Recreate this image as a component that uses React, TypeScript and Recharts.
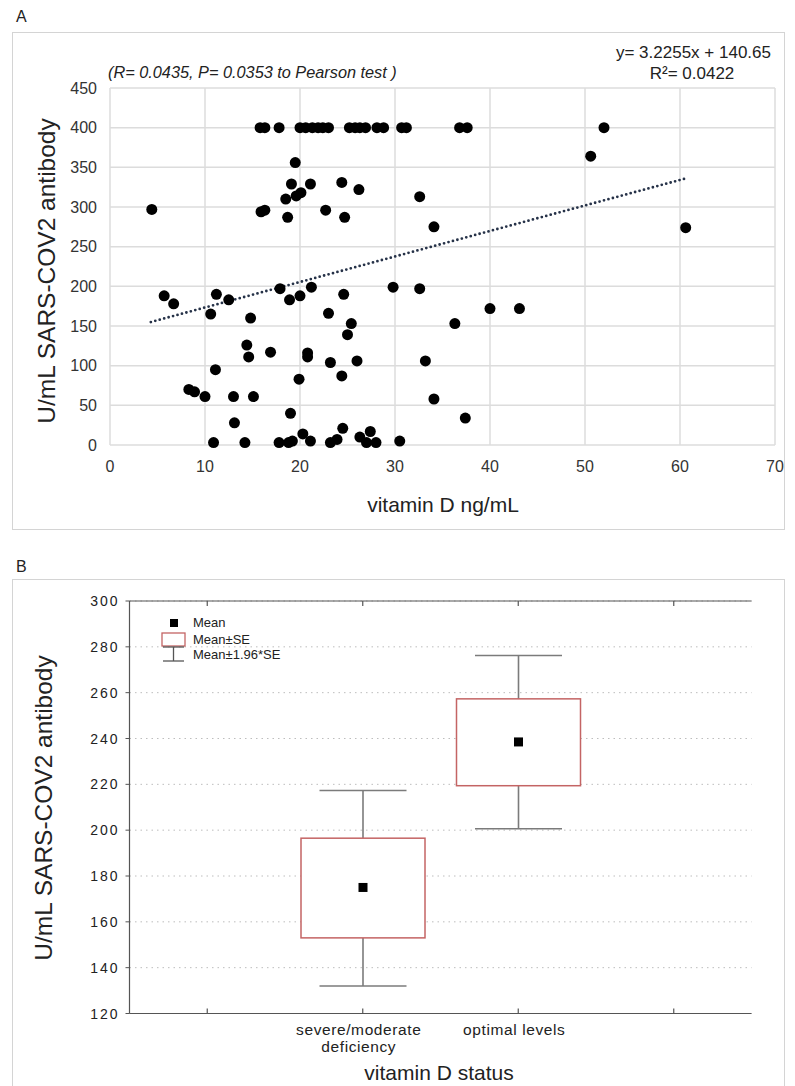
import React from 'react';
import {
  ScatterChart,
  Scatter,
  ComposedChart,
  Bar,
  XAxis,
  YAxis,
  CartesianGrid,
  ReferenceLine,
} from 'recharts';

const FONT = '"Liberation Sans", Arial, sans-serif';

// Panel A — vitamin D (ng/mL) vs. antibody titre (U/mL)
const vitaminD = [
  15.8, 16.3, 17.8, 20.0, 20.6, 21.3, 21.9, 22.4, 23.0, 25.2, 25.8, 26.3, 26.9, 28.1, 28.8, 30.7, 31.2, 36.8, 37.6, 52.0,
  4.4, 15.9, 16.3, 18.5, 18.7, 19.1, 19.5, 19.6, 20.1, 21.1, 22.7, 24.4, 24.7, 26.2, 32.6, 34.1, 50.6, 60.6,
  5.7, 6.7, 10.6, 11.2, 12.5, 14.8, 17.9, 18.9, 20.0, 21.2, 23.0, 24.6, 25.0, 25.4, 29.8, 32.6, 36.3, 40.0, 43.1,
  8.3, 8.9, 10.0, 11.1, 13.0, 13.1, 14.4, 14.6, 15.1, 16.9, 19.0, 19.9, 20.3, 20.8, 20.8, 23.2, 24.4, 24.5, 26.0, 27.4, 33.2, 34.1, 37.4,
  10.9, 14.2, 17.8, 18.8, 19.2, 21.1, 23.2, 23.9, 26.3, 27.0, 28.0, 30.5,
];
const antibody = [
  400, 400, 400, 400, 400, 400, 400, 400, 400, 400, 400, 400, 400, 400, 400, 400, 400, 400, 400, 400,
  297, 294, 296, 310, 287, 329, 356, 314, 318, 329, 296, 331, 287, 322, 313, 275, 364, 274,
  188, 178, 165, 190, 183, 160, 197, 183, 188, 199, 166, 190, 139, 153, 199, 197, 153, 172, 172,
  70, 67, 61, 95, 61, 28, 126, 111, 61, 117, 40, 83, 14, 116, 111, 104, 87, 21, 106, 17, 106, 58, 34,
  3, 3, 3, 3, 5, 5, 3, 7, 10, 3, 3, 5,
];
// ends of the dotted regression line
const trendX = [4.3, 60.6];
const trendY = [155, 336];
const xTicksA = [0, 10, 20, 30, 40, 50, 60, 70];
const yTicksA = [0, 50, 100, 150, 200, 250, 300, 350, 400, 450];

// Panel B — mean, SE and 1.96*SE per vitamin D status group
const statusKeys = ['pad1', 'severe', 'optimal', 'pad2'];
const statusLabels = ['', 'severe/moderate\ndeficiency', 'optimal levels', ''];
const means = [null, 175, 238.5, null];
const seLow = [null, 153, 219.4, null];
const seHigh = [null, 196.5, 257.3, null];
const ciLow = [null, 132, 200.6, null];
const ciHigh = [null, 217.3, 276.2, null];
const yTicksB = [120, 140, 160, 180, 200, 220, 240, 260, 280, 300];

const pointsA = vitaminD.map((x, i) => ({ x, y: antibody[i] }));

const rowsB = statusKeys.map((key, i) => ({
  key,
  mean: means[i],
  seLow: seLow[i],
  seHigh: seHigh[i],
  ciLow: ciLow[i],
  ciHigh: ciHigh[i],
  ci: means[i] == null ? null : [ciLow[i], ciHigh[i]],
}));

const Dot = (props: any) => {
  const { cx, cy } = props;
  if (cx == null || cy == null) return <g />;
  return <circle cx={cx} cy={cy} r={5.5} fill="#000" />;
};

// the bar spans ciLow..ciHigh; box, whiskers and mean are placed on that span
const BoxShape = (props: any) => {
  const { x, y, width, height, payload } = props;
  if (!payload || payload.mean == null) return <g />;
  const top = Math.min(y, y + height);
  const h = Math.abs(height);
  const span = payload.ciHigh - payload.ciLow;
  const py = (v: number) => top + ((payload.ciHigh - v) / span) * h;
  const cx = x + width / 2;
  const cap = 43.5;
  const whisker = { stroke: '#7b7b7b', strokeWidth: 1.6 };
  return (
    <g>
      <line x1={cx} x2={cx} y1={py(payload.ciHigh)} y2={py(payload.seHigh)} {...whisker} />
      <line x1={cx} x2={cx} y1={py(payload.seLow)} y2={py(payload.ciLow)} {...whisker} />
      <line x1={cx - cap} x2={cx + cap} y1={py(payload.ciHigh)} y2={py(payload.ciHigh)} {...whisker} />
      <line x1={cx - cap} x2={cx + cap} y1={py(payload.ciLow)} y2={py(payload.ciLow)} {...whisker} />
      <rect
        x={x}
        y={py(payload.seHigh)}
        width={width}
        height={py(payload.seLow) - py(payload.seHigh)}
        fill="#fff"
        stroke="#c46464"
        strokeWidth={1.5}
      />
      <rect x={cx - 4.5} y={py(payload.mean) - 4.5} width={9} height={9} fill="#000" />
    </g>
  );
};

const YTickB = (props: any) => {
  const { x, y, payload } = props;
  return (
    <text x={x} y={y} dy={5} textAnchor="end" fontSize={14} fill="#222" letterSpacing={2} fontFamily={FONT}>
      {payload.value}
    </text>
  );
};

const CatTick = (props: any) => {
  const { x, y, payload } = props;
  const idx = statusKeys.indexOf(payload.value);
  const lines = (statusLabels[idx] || '').split('\n');
  return (
    <g>
      <line x1={x} x2={x} y1={y} y2={y - 5} stroke="#555" strokeWidth={1.2} />
      <text x={x - 4} y={y + 21.5} textAnchor="middle" fontSize={15.5} fill="#222" letterSpacing={0.6} fontFamily={FONT}>
        {lines.map((l, i) => (
          <tspan key={i} x={x - 4} dy={i === 0 ? 0 : 17}>
            {l}
          </tspan>
        ))}
      </text>
    </g>
  );
};

function PanelA() {
  return (
    <ScatterChart width={795} height={540} margin={{ top: 88, right: 20, bottom: 65, left: 50 }}>
      <CartesianGrid stroke="#dcdcdc" strokeWidth={1.5} />
      <XAxis
        type="number"
        dataKey="x"
        domain={[0, 70]}
        ticks={xTicksA}
        axisLine={false}
        tickLine={false}
        tickSize={0}
        tickMargin={16}
        height={30}
        tick={{ fill: '#333', fontSize: 16, fontFamily: FONT }}
      />
      <YAxis
        type="number"
        dataKey="y"
        domain={[0, 450]}
        ticks={yTicksA}
        axisLine={false}
        tickLine={false}
        tickSize={0}
        tickMargin={13}
        width={60}
        tick={{ fill: '#333', fontSize: 16, fontFamily: FONT }}
      />
      <ReferenceLine
        segment={[
          { x: trendX[0], y: trendY[0] },
          { x: trendX[1], y: trendY[1] },
        ]}
        stroke="#263248"
        strokeWidth={2.8}
        strokeDasharray="0 4.6"
        strokeLinecap="round"
      />
      <Scatter data={pointsA} shape={Dot} isAnimationActive={false} />
      <text x={16} y={22} fontSize={16} fill="#222" fontFamily={FONT}>A</text>
      <text x={108} y={78} fontSize={16.3} fontStyle="italic" fill="#222" fontFamily={FONT}>
        (R= 0.0435, P= 0.0353 to Pearson test )
      </text>
      <text x={771} y={58} textAnchor="end" fontSize={17} fill="#222" fontFamily={FONT}>
        y= 3.2255x + 140.65
      </text>
      <text x={692} y={79} textAnchor="middle" fontSize={17} fill="#222" fontFamily={FONT}>
        R²= 0.0422
      </text>
      <text x={443} y={512} textAnchor="middle" fontSize={21} fill="#222" fontFamily={FONT}>
        vitamin D ng/mL
      </text>
      <text
        x={55}
        y={271}
        textAnchor="middle"
        fontSize={24.5}
        fill="#222"
        fontFamily={FONT}
        transform="rotate(-90, 55, 271)"
      >
        U/mL SARS-COV2 antibody
      </text>
    </ScatterChart>
  );
}

function PanelB() {
  return (
    <ComposedChart width={795} height={546} data={rowsB} margin={{ top: 61, right: 43.5, bottom: 32.5, left: 59.5 }}>
      <CartesianGrid vertical={false} stroke="#bdbdbd" strokeDasharray="1.5 4" />
      <XAxis
        dataKey="key"
        type="category"
        allowDuplicatedCategory={false}
        interval={0}
        height={40}
        tickSize={0}
        tickMargin={0}
        tickLine={false}
        axisLine={{ stroke: '#555', strokeWidth: 1.2 }}
        tick={<CatTick />}
      />
      <YAxis
        domain={[120, 300]}
        ticks={yTicksB}
        width={70}
        tickSize={4}
        tickMargin={6}
        tickLine={{ stroke: '#555' }}
        axisLine={{ stroke: '#555', strokeWidth: 1.2 }}
        tick={<YTickB />}
      />
      <YAxis
        yAxisId="r"
        orientation="right"
        domain={[120, 300]}
        width={0}
        tick={false}
        tickLine={false}
        axisLine={{ stroke: '#555', strokeWidth: 1.2 }}
      />
      <ReferenceLine y={300} stroke="#555" strokeWidth={1.2} />
      {statusKeys.map((k) => (
        <ReferenceLine
          key={k}
          segment={[
            { x: k, y: 300 },
            { x: k, y: 297.8 },
          ]}
          stroke="#555"
          strokeWidth={1.2}
        />
      ))}
      <Bar dataKey="ci" barSize={124} shape={BoxShape} isAnimationActive={false} />
      {/* legend */}
      <rect x={170} y={79} width={8} height={8} fill="#000" />
      <text x={193} y={87} fontSize={13} fill="#222" fontFamily={FONT}>Mean</text>
      <rect x={162} y={93} width={23} height={13} fill="#fff" stroke="#c46464" strokeWidth={1.3} />
      <text x={193} y={104} fontSize={13} fill="#222" fontFamily={FONT}>Mean±SE</text>
      <line x1={163} x2={184} y1={107} y2={107} stroke="#555" strokeWidth={1.3} />
      <line x1={173.5} x2={173.5} y1={107} y2={121} stroke="#555" strokeWidth={1.3} />
      <line x1={163} x2={184} y1={121} y2={121} stroke="#555" strokeWidth={1.3} />
      <text x={193} y={119} fontSize={13} fill="#222" fontFamily={FONT}>Mean±1.96*SE</text>
      <text x={16} y={32} fontSize={16} fill="#222" fontFamily={FONT}>B</text>
      <text x={439} y={540} textAnchor="middle" fontSize={21} fill="#222" fontFamily={FONT}>
        vitamin D status
      </text>
      <text
        x={52}
        y={268}
        textAnchor="middle"
        fontSize={24.5}
        fill="#222"
        fontFamily={FONT}
        transform="rotate(-90, 52, 268)"
      >
        U/mL SARS-COV2 antibody
      </text>
    </ComposedChart>
  );
}

export default function App() {
  return (
    <div
      style={{
        position: 'relative',
        width: 795,
        height: 1086,
        background: '#fff',
        fontFamily: FONT,
        overflow: 'hidden',
      }}
    >
      <style>{'html,body{margin:0;padding:0;overflow:hidden;}'}</style>
      <div
        style={{
          position: 'absolute',
          left: 12,
          top: 32,
          width: 773,
          height: 498,
          border: '1px solid #d4d4d4',
          boxSizing: 'border-box',
        }}
      />
      <div
        style={{
          position: 'absolute',
          left: 12,
          top: 579,
          width: 773,
          height: 520,
          border: '1px solid #d4d4d4',
          boxSizing: 'border-box',
        }}
      />
      <div style={{ position: 'absolute', left: 0, top: 0 }}>
        <PanelA />
      </div>
      <div style={{ position: 'absolute', left: 0, top: 540 }}>
        <PanelB />
      </div>
    </div>
  );
}
